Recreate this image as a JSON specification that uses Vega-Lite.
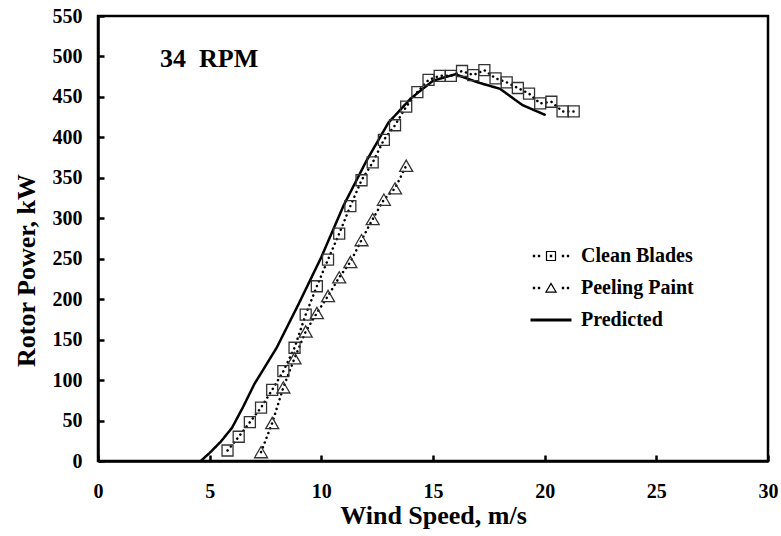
{
  "$schema": "https://vega.github.io/schema/vega-lite/v6.json",
  "width": 670,
  "height": 445,
  "autosize": {"type": "none"},
  "padding": {"left": 98, "top": 16, "right": 13, "bottom": 75},
  "background": "white",
  "config": {
    "view": {"stroke": "black", "strokeWidth": 2.5},
    "font": "Liberation Serif",
    "axis": {
      "labelFont": "Liberation Serif",
      "labelFontWeight": "bold",
      "labelFontSize": 20,
      "labelColor": "black",
      "titleFont": "Liberation Serif",
      "titleFontWeight": "bold",
      "titleFontSize": 26,
      "titleColor": "black",
      "domainColor": "black",
      "domainWidth": 2.5,
      "ticks": true,
      "tickColor": "black",
      "tickWidth": 2.5,
      "tickSize": -6,
      "tickOpacity": 1,
      "zindex": 1,
      "grid": false,
      "labelFlush": false,
      "labelOverlap": false
    }
  },
  "data": {
    "values": [
      {"series": "Clean Blades", "x": 5.8, "y": 13},
      {"series": "Clean Blades", "x": 6.3, "y": 30},
      {"series": "Clean Blades", "x": 6.8, "y": 48},
      {"series": "Clean Blades", "x": 7.3, "y": 66},
      {"series": "Clean Blades", "x": 7.8, "y": 88},
      {"series": "Clean Blades", "x": 8.3, "y": 111},
      {"series": "Clean Blades", "x": 8.8, "y": 140},
      {"series": "Clean Blades", "x": 9.3, "y": 181},
      {"series": "Clean Blades", "x": 9.8, "y": 216},
      {"series": "Clean Blades", "x": 10.3, "y": 249},
      {"series": "Clean Blades", "x": 10.8, "y": 281},
      {"series": "Clean Blades", "x": 11.3, "y": 315},
      {"series": "Clean Blades", "x": 11.8, "y": 347},
      {"series": "Clean Blades", "x": 12.3, "y": 369},
      {"series": "Clean Blades", "x": 12.8, "y": 397},
      {"series": "Clean Blades", "x": 13.3, "y": 415},
      {"series": "Clean Blades", "x": 13.8, "y": 438},
      {"series": "Clean Blades", "x": 14.3, "y": 456},
      {"series": "Clean Blades", "x": 14.8, "y": 471},
      {"series": "Clean Blades", "x": 15.3, "y": 476},
      {"series": "Clean Blades", "x": 15.8, "y": 476},
      {"series": "Clean Blades", "x": 16.3, "y": 482},
      {"series": "Clean Blades", "x": 16.8, "y": 477},
      {"series": "Clean Blades", "x": 17.3, "y": 483},
      {"series": "Clean Blades", "x": 17.8, "y": 473},
      {"series": "Clean Blades", "x": 18.3, "y": 468},
      {"series": "Clean Blades", "x": 18.8, "y": 461},
      {"series": "Clean Blades", "x": 19.3, "y": 454},
      {"series": "Clean Blades", "x": 19.8, "y": 442},
      {"series": "Clean Blades", "x": 20.3, "y": 444},
      {"series": "Clean Blades", "x": 20.8, "y": 432},
      {"series": "Clean Blades", "x": 21.3, "y": 432},
      {"series": "Peeling Paint", "x": 7.3, "y": 11},
      {"series": "Peeling Paint", "x": 7.8, "y": 47},
      {"series": "Peeling Paint", "x": 8.3, "y": 91},
      {"series": "Peeling Paint", "x": 8.8, "y": 127},
      {"series": "Peeling Paint", "x": 9.3, "y": 160},
      {"series": "Peeling Paint", "x": 9.8, "y": 183},
      {"series": "Peeling Paint", "x": 10.3, "y": 204},
      {"series": "Peeling Paint", "x": 10.8, "y": 227},
      {"series": "Peeling Paint", "x": 11.3, "y": 246},
      {"series": "Peeling Paint", "x": 11.8, "y": 273},
      {"series": "Peeling Paint", "x": 12.3, "y": 299},
      {"series": "Peeling Paint", "x": 12.8, "y": 323},
      {"series": "Peeling Paint", "x": 13.3, "y": 337},
      {"series": "Peeling Paint", "x": 13.8, "y": 365},
      {"series": "Predicted", "x": 4.6, "y": 0},
      {"series": "Predicted", "x": 5.0, "y": 10},
      {"series": "Predicted", "x": 5.5, "y": 24},
      {"series": "Predicted", "x": 6.0, "y": 41},
      {"series": "Predicted", "x": 6.5, "y": 67},
      {"series": "Predicted", "x": 7.0, "y": 95},
      {"series": "Predicted", "x": 8.0, "y": 140},
      {"series": "Predicted", "x": 9.0, "y": 195},
      {"series": "Predicted", "x": 10.0, "y": 252},
      {"series": "Predicted", "x": 11.0, "y": 316},
      {"series": "Predicted", "x": 12.0, "y": 370},
      {"series": "Predicted", "x": 13.0, "y": 418},
      {"series": "Predicted", "x": 13.5, "y": 433},
      {"series": "Predicted", "x": 14.0, "y": 448},
      {"series": "Predicted", "x": 15.0, "y": 470},
      {"series": "Predicted", "x": 16.0, "y": 478},
      {"series": "Predicted", "x": 17.0, "y": 468},
      {"series": "Predicted", "x": 18.0, "y": 460},
      {"series": "Predicted", "x": 19.0, "y": 440},
      {"series": "Predicted", "x": 20.0, "y": 428}
    ]
  },
  "encoding": {
    "x": {
      "field": "x", "type": "quantitative",
      "scale": {"domain": [0, 30], "nice": false},
      "axis": {"title": "Wind Speed, m/s", "values": [0, 5, 10, 15, 20, 25, 30], "labelPadding": 26, "titleX": 335, "titleY": 62, "titleBaseline": "alphabetic"}
    },
    "y": {
      "field": "y", "type": "quantitative",
      "scale": {"domain": [0, 550], "nice": false},
      "axis": {"title": "Rotor Power, kW", "values": [0, 50, 100, 150, 200, 250, 300, 350, 400, 450, 500, 550], "labelPadding": 22, "titleX": -72, "titleY": 254, "titleAngle": -90, "titleBaseline": "middle", "titleAlign": "center"}
    }
  },
  "resolve": {"scale": {"shape": "independent", "size": "independent"}, "legend": {"shape": "independent"}},
  "layer": [
    {
      "mark": {"type": "line", "color": "black", "strokeCap": "round"},
      "encoding": {
        "strokeDash": {
          "field": "series", "type": "nominal",
          "scale": {"domain": ["Clean Blades", "Peeling Paint", "Predicted"], "range": [[0.1, 5], [0.1, 5], [1, 0]]},
          "legend": null
        },
        "strokeWidth": {
          "field": "series", "type": "nominal",
          "scale": {"domain": ["Clean Blades", "Peeling Paint", "Predicted"], "range": [2.5, 2.5, 3.2]},
          "legend": null
        }
      }
    },
    {
      "transform": [{"filter": "datum.series !== 'Predicted'"}],
      "mark": {"type": "point", "filled": false, "stroke": "#333333", "strokeWidth": 1.3, "opacity": 1},
      "encoding": {
        "shape": {
          "field": "series", "type": "nominal",
          "scale": {"domain": ["Clean Blades", "Peeling Paint"], "range": ["square", "triangle-up"]},
          "legend": null
        },
        "size": {
          "field": "series", "type": "nominal",
          "scale": {"domain": ["Clean Blades", "Peeling Paint"], "range": [121, 169]},
          "legend": null
        }
      }
    },
    {
      "transform": [{"filter": "false"}],
      "mark": {"type": "point", "filled": true, "color": "black", "opacity": 1, "strokeWidth": 0},
      "encoding": {
        "shape": {
          "field": "series", "type": "nominal",
          "scale": {
            "domain": ["Clean Blades", "Peeling Paint", "Predicted"],
            "range": [
              "M-1.213,-0.08H-1.053V0.08H-1.213Z M-0.88,-0.08H-0.72V0.08H-0.88Z M0.72,-0.08H0.88V0.08H0.72Z M1.053,-0.08H1.213V0.08H1.053Z M-0.34,-0.34H0.34V0.34H-0.34Z M-0.26,-0.26V0.26H0.26V-0.26Z M-0.08,-0.08H0.08V0.08H-0.08Z",
              "M-1.213,-0.08H-1.053V0.08H-1.213Z M-0.88,-0.08H-0.72V0.08H-0.88Z M0.72,-0.08H0.88V0.08H0.72Z M1.053,-0.08H1.213V0.08H1.053Z M0,-0.38L0.41,0.32L-0.41,0.32Z M0,-0.22L-0.27,0.24L0.27,0.24Z",
              "M-1.367,-0.1H1.367V0.1H-1.367Z"
            ]
          },
          "legend": {
            "orient": "none", "legendX": 438, "legendY": 225, "title": null,
            "symbolSize": 900, "padding": 0, "rowPadding": 7,
            "symbolFillColor": "black", "symbolStrokeColor": "black", "symbolStrokeWidth": 0, "symbolOpacity": 1,
            "labelFont": "Liberation Serif", "labelFontSize": 20, "labelFontWeight": "bold", "labelColor": "black", "labelOffset": 15
          }
        }
      }
    },
    {
      "data": {"values": [{"x": 2.78, "y": 487, "label": "34\u00a0\u00a0RPM"}]},
      "mark": {"type": "text", "font": "Liberation Serif", "fontWeight": "bold", "fontSize": 26, "align": "left", "baseline": "alphabetic", "color": "black"},
      "encoding": {
        "text": {"field": "label"}
      }
    }
  ]
}
